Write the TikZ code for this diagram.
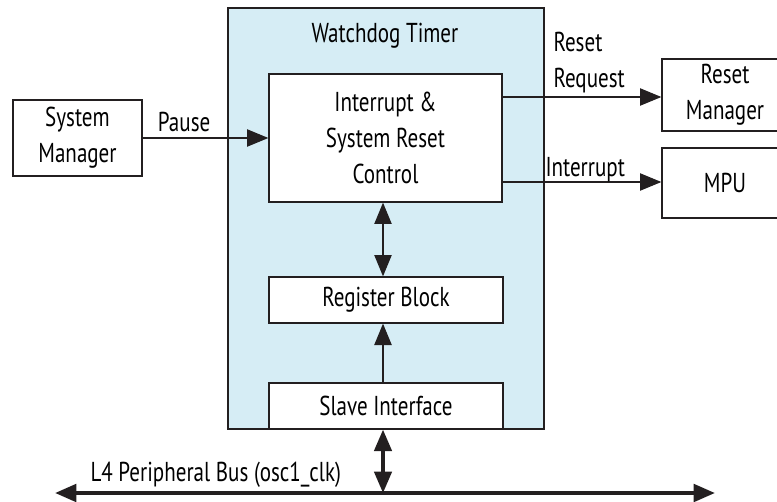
\documentclass[tikz,border=0pt]{standalone}
\usepackage{fontspec}
\usetikzlibrary{arrows.meta}
\newfontfamily\wdfont{PT Sans}[FakeStretch=0.77]
\definecolor{wdblue}{RGB}{214,237,245}
\definecolor{wdline}{RGB}{35,31,32}

\tikzset{every picture/.style={line width=0.75pt}}
\tikzset{
  blk/.style={draw=wdline, fill=white, line width=1pt, inner sep=0pt, align=center},
  lbl/.style={inner sep=0pt, align=left},
  sig/.style={draw=wdline, line width=0.9pt, -{Triangle[length=16pt,width=13pt]}},
  bus/.style={draw=wdline, line width=3pt, {Triangle[length=16pt,width=13pt]}-{Triangle[length=16pt,width=13pt]}}
}

\begin{document}
\begin{tikzpicture}[x=0.75pt,y=0.75pt,yscale=-1,font=\wdfont\fontsize{20.5}{27}\selectfont]
\useasboundingbox (0,0) rectangle (777,502);

%Shape: Rectangle [id:wdt]
\node [draw=wdline, fill=wdblue, line width=1pt, minimum width=237pt, minimum height=315.75pt, inner sep=0pt] (wdt) at (386,218.5) {};
%Text Node
\node [lbl] (wdtitle) at (385,36) {Watchdog Timer};

%Shape: Rectangle [id:sysmgr]
\node [blk, minimum width=96.75pt, minimum height=57pt] (sysmgr) at (77.5,138) {System\\Manager};
%Shape: Rectangle [id:ctrl]
\node [blk, minimum width=174.75pt, minimum height=96pt] (ctrl) at (385.5,138) {Interrupt \&\\System Reset\\Control};
%Shape: Rectangle [id:regblk]
\node [blk, minimum width=175.5pt, minimum height=34.5pt] (regblk) at (386,300) {Register Block};
%Shape: Rectangle [id:slave]
\node [blk, minimum width=175.5pt, minimum height=34.5pt] (slave) at (386,406) {Slave Interface};
%Shape: Rectangle [id:rstmgr]
\node [blk, minimum width=94.5pt, minimum height=54pt] (rstmgr) at (725,95) {Reset\\Manager};
%Shape: Rectangle [id:mpu]
\node [blk, minimum width=94.5pt, minimum height=52.5pt] (mpu) at (725,183) {MPU};

%Coordinates of the bus
\coordinate (busx) at (383,0);
\coordinate (busL) at (55,493);
\coordinate (busR) at (715,493);

%Straight Lines
\draw [sig] (sysmgr) -- (ctrl) node [lbl, pos=0.33, above=4pt] (pause) {Pause};
\draw [sig] (ctrl.east |- 0,97) -- (rstmgr.west |- 0,97);
\draw [sig] (ctrl.east |- 0,182) -- (mpu.west |- 0,182);
\draw [sig, {Triangle[length=16pt,width=13pt]}-{Triangle[length=16pt,width=13pt]}] (ctrl.south -| busx) -- (regblk.north -| busx);
\draw [sig] (slave.north -| busx) -- (regblk.south -| busx);
\draw [bus] (busL) -- (busR);
\draw [bus, line width=2.5pt] (slave.south -| busx) -- (busx |- busL);

%Text Nodes
\node [lbl, anchor=west] (rstreq) at (553,63) {Reset\\Request};
\node [lbl, anchor=west] (irq) at (545,170) {Interrupt};
\node [lbl, anchor=west] (buslbl) at (90,475) {L4 Peripheral Bus (osc1\_clk)};

\end{tikzpicture}
\end{document}
